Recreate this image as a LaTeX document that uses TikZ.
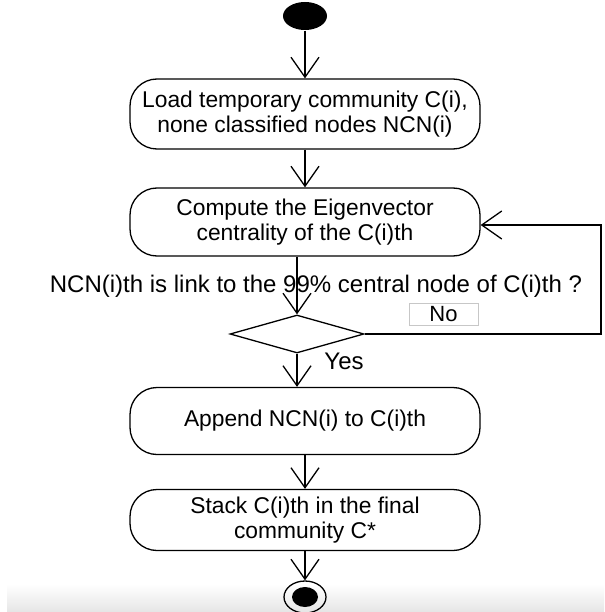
\documentclass[tikz,border=0pt]{standalone}
\usepackage{fontspec}
\setmainfont{Liberation Sans}
\usetikzlibrary{arrows.meta,shapes.geometric}
\begin{document}
\begin{tikzpicture}[x=1pt,y=-1pt,
  line width=1.3pt,
  txt/.style={font=\fontsize{24}{25}\selectfont},
  boxtxt/.style={font=\fontsize{22.8}{24.5}\selectfont},
  stepbox/.style={draw, rounded corners=27pt, minimum width=350pt, align=center, inner sep=0pt, boxtxt},
  flow/.style={-{Straight Barb[length=20pt,width=28pt,line width=1.3pt]}}
]
\useasboundingbox (0,0) rectangle (604,612);
% faint shaded strip along the lower edge
\shade[top color=white, bottom color=black!10] (7,584) rectangle (604,612);

% activity nodes
\node[ellipse, fill=black, minimum width=44pt, minimum height=28pt, inner sep=0pt] (start) at (305,16) {};
\node[stepbox, minimum height=70pt] (load) at (305,114) {Load temporary community C(i),\\none classified nodes NCN(i)};
\node[stepbox, minimum height=68pt] (eig) at (305,222) {Compute the Eigenvector\\centrality of the C(i)th};
\node[txt, inner sep=0pt] (q) at (316,286) {NCN(i)th is link to the 99\% central node of C(i)th ?};
\node[diamond, draw, minimum width=134pt, minimum height=38pt, inner sep=0pt] (dec) at (297,334) {};
\node[draw=black!22, line width=1pt, minimum width=69pt, minimum height=22pt, inner sep=0pt, font=\fontsize{22}{22}\selectfont] (no) at (443.5,314) {No};
\node[txt, inner sep=0pt] (yes) at (344,361) {Yes};
\node[stepbox, minimum height=67pt] (app) at (305,421) {Append NCN(i) to C(i)th};
\node[stepbox, minimum height=61pt] (stk) at (305,520) {Stack C(i)th in the final\\community C*};
\node[ellipse, draw, minimum width=42pt, minimum height=32pt, inner sep=0pt] (end) at (305,597) {};
\node[ellipse, fill=black, minimum width=26pt, minimum height=20pt, inner sep=0pt] (endcore) at (end) {};

% control flow
\coordinate (loopA) at (601,334);
\coordinate (loopB) at (601,225);
\draw[flow] (start) -- (load);
\draw[flow] (load) -- (eig);
\draw[flow] (eig.south -| dec.north) -- (dec.north);
\draw[flow] (dec.south) -- (dec.south |- app.north);
\draw[flow] (app) -- (stk);
\draw[flow] (stk) -- (end);
\draw[flow] (dec.east) -- (loopA) -- (loopB) -- (loopB -| eig.east);
\end{tikzpicture}
\end{document}
